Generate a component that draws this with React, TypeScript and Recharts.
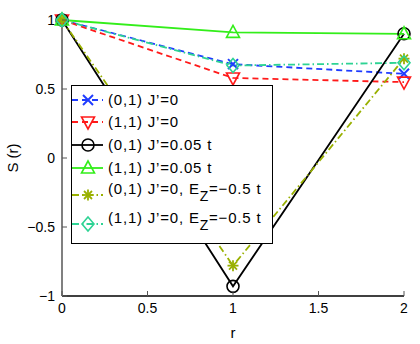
import React from "react";
import { LineChart, Line, XAxis, YAxis, Legend } from "recharts";

const rValues = [0, 1, 2];
const s01J0 = [1, 0.68, 0.61];
const s11J0 = [1, 0.58, 0.55];
const s01J005 = [1, -0.93, 0.9];
const s11J005 = [1, 0.91, 0.9];
const s01Ez = [1, -0.78, 0.72];
const s11Ez = [1, 0.67, 0.69];

const xTicks = [0, 0.5, 1, 1.5, 2];
const yTicks = [-1, -0.5, 0, 0.5, 1];

const data = rValues.map((r, i) => ({
  r,
  a: s01J0[i],
  b: s11J0[i],
  c: s01J005[i],
  d: s11J005[i],
  e: s01Ez[i],
  f: s11Ez[i],
}));

const FONT = "'Liberation Sans', Arial, Helvetica, sans-serif";

type MarkerKind = "x" | "tdown" | "circle" | "tup" | "star" | "diamond";

function Marker({ kind, cx, cy, color }: { kind: MarkerKind; cx: number; cy: number; color: string }) {
  const sw = 1.6;
  switch (kind) {
    case "x":
      return (
        <g stroke={color} strokeWidth={2} fill="none">
          <line x1={cx - 5} y1={cy - 5} x2={cx + 5} y2={cy + 5} />
          <line x1={cx - 5} y1={cy + 5} x2={cx + 5} y2={cy - 5} />
        </g>
      );
    case "tdown":
      return (
        <polygon
          points={`${cx - 6.5},${cy - 5} ${cx + 6.5},${cy - 5} ${cx},${cy + 7}`}
          stroke={color}
          strokeWidth={sw}
          fill="none"
        />
      );
    case "circle":
      return <circle cx={cx} cy={cy} r={6} stroke={color} strokeWidth={sw} fill="none" />;
    case "tup":
      return (
        <polygon
          points={`${cx},${cy - 7} ${cx - 6.5},${cy + 5} ${cx + 6.5},${cy + 5}`}
          stroke={color}
          strokeWidth={sw}
          fill="none"
        />
      );
    case "star":
      return (
        <g stroke={color} strokeWidth={1.8} fill="none">
          <line x1={cx - 5.5} y1={cy} x2={cx + 5.5} y2={cy} />
          <line x1={cx} y1={cy - 5.5} x2={cx} y2={cy + 5.5} />
          <line x1={cx - 4} y1={cy - 4} x2={cx + 4} y2={cy + 4} />
          <line x1={cx - 4} y1={cy + 4} x2={cx + 4} y2={cy - 4} />
        </g>
      );
    case "diamond":
      return (
        <polygon
          points={`${cx},${cy - 7} ${cx + 6},${cy} ${cx},${cy + 7} ${cx - 6},${cy}`}
          stroke={color}
          strokeWidth={sw}
          fill="none"
        />
      );
  }
  return null;
}

type SeriesDef = {
  key: string;
  color: string;
  dash?: string;
  marker: MarkerKind;
  label: string;
  sub?: string;
  tail?: string;
};

const series: SeriesDef[] = [
  { key: "a", color: "#1f3cff", dash: "6 4", marker: "x", label: "(0,1) J\u2019=0" },
  { key: "b", color: "#ff1a1a", dash: "6 4", marker: "tdown", label: "(1,1) J\u2019=0" },
  { key: "c", color: "#000000", marker: "circle", label: "(0,1) J\u2019=0.05 t" },
  { key: "d", color: "#33ee1a", marker: "tup", label: "(1,1) J\u2019=0.05 t" },
  { key: "e", color: "#99b000", dash: "7 3 1.5 3", marker: "star", label: "(0,1) J\u2019=0, E", sub: "Z", tail: "=\u22120.5 t" },
  { key: "f", color: "#2ed394", dash: "7 3 1.5 3", marker: "diamond", label: "(1,1) J\u2019=0, E", sub: "Z", tail: "=\u22120.5 t" },
];

const fmt = (v: number) => {
  const s = String(v);
  return s.replace("-", "\u2212");
};

const XTickBottom = (props: any) => {
  const { x, y, payload } = props;
  const m = 7;
  return (
    <g>
      <line x1={x} y1={y - m} x2={x} y2={y - m - 5} stroke="#555" strokeWidth={1} />
      <text x={x} y={y} dy="0.71em" textAnchor="middle" fontSize={14} fontFamily={FONT} fill="#000">
        {fmt(payload.value)}
      </text>
    </g>
  );
};

const XTickTop = (props: any) => {
  const { x, y } = props;
  return <line x1={x} y1={y} x2={x} y2={y + 5} stroke="#555" strokeWidth={1} />;
};

const YTickLeft = (props: any) => {
  const { x, y, payload } = props;
  const m = 7;
  return (
    <g>
      <line x1={x + m} y1={y} x2={x + m + 5} y2={y} stroke="#555" strokeWidth={1} />
      <text x={x} y={y} dy="0.355em" textAnchor="end" fontSize={14} fontFamily={FONT} fill="#000">
        {fmt(payload.value)}
      </text>
    </g>
  );
};

const YTickRight = (props: any) => {
  const { x, y } = props;
  return <line x1={x} y1={y} x2={x - 5} y2={y} stroke="#555" strokeWidth={1} />;
};

const rowMarkerY = [15, 37, 60, 83, 110, 139];
const rowTextY = [15, 37, 60, 83, 104, 133];

const LegendBox = () => (
  <svg width={202} height={159} style={{ display: "block" }}>
    <rect x={0.5} y={0.5} width={201} height={158} fill="#fff" stroke="#000" strokeWidth={1} />
    {series.map((s, i) => {
      const my = rowMarkerY[i];
      const ty = rowTextY[i];
      return (
        <g key={s.key}>
          <line x1={1} y1={my} x2={32} y2={my} stroke={s.color} strokeWidth={1.8} strokeDasharray={s.dash} />
          <Marker kind={s.marker} cx={17} cy={my} color={s.color} />
          <text x={37} y={ty} dy="0.355em" fontSize={15} letterSpacing={0.8} fontFamily={FONT} fill="#000">
            {s.label}
            {s.sub ? (
              <tspan dy="7" fontSize={14}>
                {s.sub}
              </tspan>
            ) : null}
            {s.tail ? <tspan dy="-7">{s.tail}</tspan> : null}
          </text>
        </g>
      );
    })}
  </svg>
);

export default function App() {
  return (
    <div style={{ position: "absolute", left: 0, top: 0, width: 420, height: 344, background: "#fff" }}>
      <LineChart width={420} height={344} data={data} margin={{ top: 20, right: 16, bottom: 0, left: 0 }}>
        <XAxis
          dataKey="r"
          type="number"
          domain={[0, 2]}
          ticks={xTicks}
          height={48}
          tickSize={0}
          tickMargin={7}
          tick={<XTickBottom />}
          axisLine={{ stroke: "#000", strokeWidth: 1.5 }}
          tickLine={false}
          label={{ value: "r", position: "insideBottom", offset: 6, fontSize: 15, fontFamily: FONT, fill: "#000" }}
        />
        <XAxis
          xAxisId="top"
          dataKey="r"
          type="number"
          orientation="top"
          domain={[0, 2]}
          ticks={xTicks}
          height={0}
          tickSize={0}
          tickMargin={0}
          tick={<XTickTop />}
          axisLine={{ stroke: "#777", strokeWidth: 1.5 }}
          tickLine={false}
        />
        <YAxis
          type="number"
          domain={[-1, 1]}
          ticks={yTicks}
          width={62}
          tickSize={0}
          tickMargin={7}
          tick={<YTickLeft />}
          axisLine={{ stroke: "#808080", strokeWidth: 2 }}
          tickLine={false}
          label={{
            content: (p: any) => {
              const vb = p.viewBox || {};
              const cy = (vb.y ?? 20) + (vb.height ?? 276) / 2;
              return (
                <text
                  x={13}
                  y={cy}
                  transform={`rotate(-90 13 ${cy})`}
                  textAnchor="middle"
                  dy="0.355em"
                  fontSize={15}
                  fontFamily={FONT}
                  fill="#000"
                >
                  S (r)
                </text>
              );
            },
          }}
        />
        <YAxis
          yAxisId="right"
          orientation="right"
          type="number"
          domain={[-1, 1]}
          ticks={yTicks}
          width={0}
          tickSize={0}
          tickMargin={0}
          tick={<YTickRight />}
          axisLine={{ stroke: "#333", strokeWidth: 1.5 }}
          tickLine={false}
        />
        {series.map((s) => (
          <Line
            key={s.key}
            dataKey={s.key}
            stroke={s.color}
            strokeWidth={1.8}
            strokeDasharray={s.dash}
            isAnimationActive={false}
            dot={(p: any) => <Marker key={`${s.key}-${p.index}`} kind={s.marker} cx={p.cx} cy={p.cy} color={s.color} />}
            activeDot={false}
            legendType="none"
          />
        ))}
        <Legend
          layout="vertical"
          align="center"
          verticalAlign="middle"
          content={() => <LegendBox />}
          wrapperStyle={{ left: 71, top: 85, width: 202, height: 159 }}
        />
      </LineChart>
    </div>
  );
}
